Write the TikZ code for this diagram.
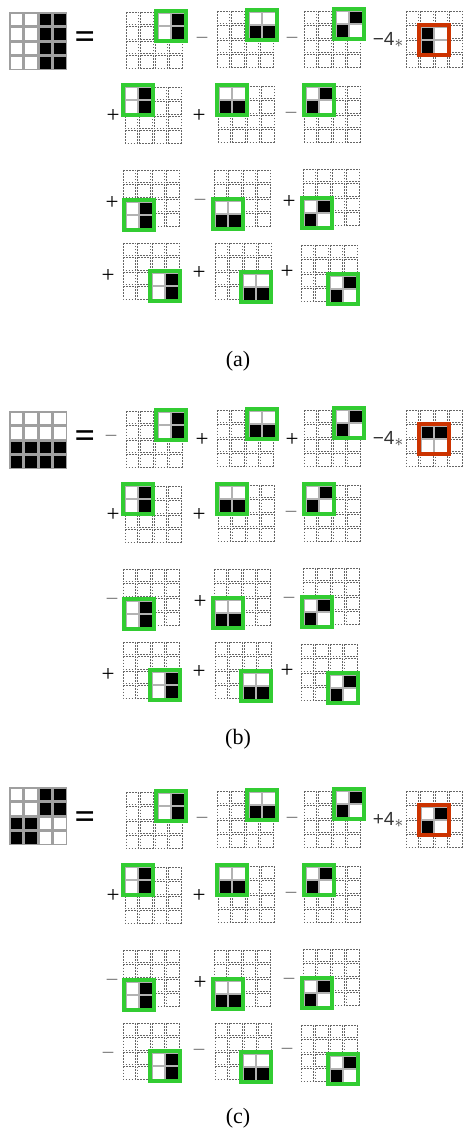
\documentclass[tikz,border=0pt]{standalone}
\usepackage{fontspec}
\setmainfont{Liberation Serif}
\setsansfont{Liberation Sans}
\usepackage{tikz}
\definecolor{hlgreen}{RGB}{50, 204, 50}
\definecolor{hlred}{RGB}{204, 51, 0}

\newcommand{\plusop}{+}
\newcommand{\minusop}{\textcolor{gray}{−}}

% 4x4 dashed grid, top left corner at (#1,#2)
\newcommand{\dgrid}[2]{%
  \foreach \ci in {0,...,3}{\foreach \cj in {0,...,3}{%
    \draw[dcell] ({#1+14.5*\ci},{#2+14.5*\cj}) rectangle ++(12.5,12.5);}}}

% framed 2x2 block: colour, x, y, then the four cells
\newcommand{\featbox}[7]{%
  \fill[white] ({#2},{#3}) rectangle ++(34,34);
  \draw[fcell, fill=#4] ({#2+4},{#3+4}) rectangle ++(12.5,12.5);
  \draw[fcell, fill=#5] ({#2+17.5},{#3+4}) rectangle ++(12.5,12.5);
  \draw[fcell, fill=#6] ({#2+4},{#3+17.5}) rectangle ++(12.5,12.5);
  \draw[fcell, fill=#7] ({#2+17.5},{#3+17.5}) rectangle ++(12.5,12.5);
  \draw[#1, line width=3.8pt] ({#2+1.9},{#3+1.9}) rectangle ++(30.2,30.2);}

% the input pattern: x, y, black cells
\newcommand{\bigpat}[3]{%
  \foreach \ci in {0,...,3}{\foreach \cj in {0,...,3}{%
    \draw[pcell, fill=white] ({#1+14.5*\ci},{#2+14.5*\cj}) rectangle ++(13,13);}}
  \foreach \ci/\cj in {#3}{%
    \draw[pcell, fill=black] ({#1+14.5*\ci},{#2+14.5*\cj}) rectangle ++(13,13);}}

% the twelve green terms, three per corner
\newcommand{\allterms}{%
  \foreach \gx/\gy/\dx/\dy [count=\k] in {126/12/28/-3, 217/11/28/-3, 304/11/28/-4,
      125/87/-4/-4, 218/86/-3/-3, 304/86/-2/-3,
      123/170/-1/28, 214/170/-3/27, 303/169/-3/27,
      123/243/25/26, 215/243/24/27, 301/245/25/27}{
    \dgrid{\gx}{\gy}
    \pgfmathtruncatemacro\ftype{mod(\k-1,3)}
    \ifcase\ftype \featbox{hlgreen}{\gx+\dx}{\gy+\dy}{white}{black}{white}{black}
    \or \featbox{hlgreen}{\gx+\dx}{\gy+\dy}{white}{white}{black}{black}
    \or \featbox{hlgreen}{\gx+\dx}{\gy+\dy}{white}{black}{black}{white}\fi
  }
  \dgrid{406}{11}}

\begin{document}
\begin{tikzpicture}[x=1pt, y=-1pt,
  dcell/.style={draw=black!60, line width=0.7pt, dash pattern=on 1.8pt off 1.2pt},
  fcell/.style={draw=gray!60, line width=0.8pt},
  pcell/.style={draw=gray!75, line width=1.3pt},
  sgn/.style={font=\fontsize{23}{23}\selectfont},
  eqs/.style={font=\bfseries\fontsize{36}{36}\selectfont},
  coef/.style={font=\sffamily\fontsize{19}{19}\selectfont, text=black!80},
  panellabel/.style={font=\fontsize{22}{22}\selectfont}]
  \useasboundingbox (0,0) rectangle (463,1131);

  % (a)
  \bigpat{10}{13}{2/0,3/0,2/1,3/1,2/2,3/2,2/3,3/3}
  \node[eqs] (eqa) at (85,40) {=};
  \allterms
  \featbox{hlred}{417}{23}{black}{white}{black}{white}
  \node[coef] (coefa) at (388,40) {−4\raisebox{-1.5pt}{$\ast$}};
  \foreach \sx/\sy/\s [count=\k] in {202/41/\minusop, 292/41/\minusop,
      113/116/\plusop, 199/116/\plusop, 291/116/\minusop,
      112/203/\plusop, 200/203/\minusop, 289/202/\plusop,
      108/276/\plusop, 199/273/\plusop, 287/272/\plusop}
    \node[sgn] (sa\k) at (\sx,\sy) {\s};
  \node[panellabel] (capa) at (238,361) {(a)};

  % (b)
  \begin{scope}[shift={(0,399)}]
    \bigpat{10}{13}{0/2,1/2,2/2,3/2,0/3,1/3,2/3,3/3}
    \node[eqs] (eqb) at (85,40) {=};
    \allterms
    \featbox{hlred}{417}{23}{black}{black}{white}{white}
    \node[coef] (coefb) at (388,40) {−4\raisebox{-1.5pt}{$\ast$}};
    \foreach \sx/\sy/\s [count=\k] in {111/40/\minusop, 202/41/\plusop, 292/41/\plusop,
        113/116/\plusop, 199/116/\plusop, 291/116/\minusop,
        112/203/\minusop, 200/203/\plusop, 289/202/\minusop,
        108/276/\plusop, 199/273/\plusop, 287/272/\plusop}
      \node[sgn] (sb\k) at (\sx,\sy) {\s};
    \node[panellabel] (capb) at (238,340) {(b)};
  \end{scope}

  % (c)
  \begin{scope}[shift={(0,780)}]
    \bigpat{10}{8}{2/0,3/0,2/1,3/1,0/2,1/2,0/3,1/3}
    \node[eqs] (eqc) at (85,40) {=};
    \allterms
    \featbox{hlred}{417}{23}{white}{black}{black}{white}
    \node[coef] (coefc) at (388,40) {+4\raisebox{-1.5pt}{$\ast$}};
    \foreach \sx/\sy/\s [count=\k] in {202/41/\minusop, 292/41/\minusop,
        113/116/\plusop, 199/116/\plusop, 291/116/\minusop,
        112/203/\minusop, 200/203/\plusop, 289/202/\minusop,
        108/276/\minusop, 199/273/\minusop, 287/272/\minusop}
      \node[sgn] (sc\k) at (\sx,\sy) {\s};
    \node[panellabel] (capc) at (238,338) {(c)};
  \end{scope}
\end{tikzpicture}
\end{document}
